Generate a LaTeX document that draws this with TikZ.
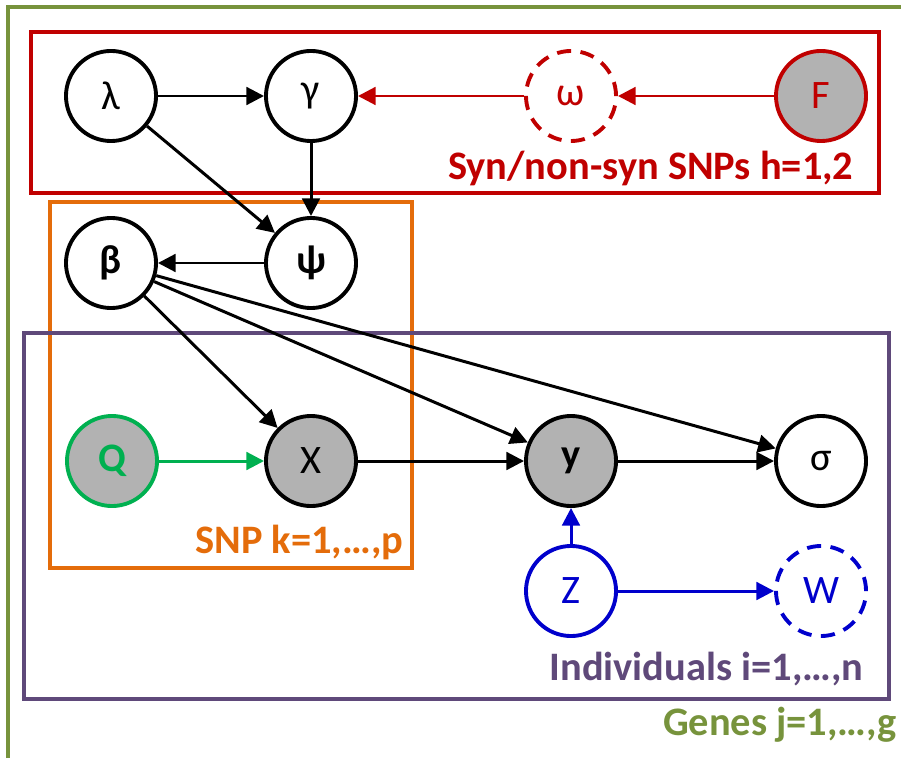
\documentclass[tikz,border=0pt]{standalone}
\usepackage{fontspec}
\setmainfont{Carlito}
\usetikzlibrary{arrows.meta}
\definecolor{synred}{HTML}{C00000}
\definecolor{snporange}{HTML}{E46C0A}
\definecolor{indpurple}{HTML}{5F497A}
\definecolor{genegreen}{HTML}{77933C}
\definecolor{qgreen}{HTML}{00B050}
\definecolor{zblue}{HTML}{0000CC}
\definecolor{obsgray}{HTML}{B2B2B2}
\tikzset{
  var/.style={circle, draw, fill=white, line width=1.1pt, minimum size=0.9cm, inner sep=0pt,
    font=\fontsize{11.5}{13}\selectfont},
  obs/.style={var, fill=obsgray},
  hidden/.style={dash pattern=on 4pt off 2.7pt},
  edge/.style={-{Triangle[length=5pt,width=5pt]}, line width=0.85pt},
  plate/.style={line width=0.9pt},
  platelabel/.style={anchor=base east, inner sep=0pt, font=\bfseries\fontsize{11.5}{13}\selectfont},
}
\begin{document}
\begin{tikzpicture}[x=0.01cm,y=-0.01cm]
            \useasboundingbox (0,0) rectangle (901,758);
            \draw[plate, genegreen] (8,758) |- (901,7);
            \draw[plate, synred] (31,32) rectangle (879,193);
            \draw[plate, snporange] (50,202) rectangle (412,568);
            \draw[plate, indpurple] (24,333) rectangle (889,699);
            \node[platelabel, synred] (synlab) at (854,180) {Syn/non-syn SNPs h=1,2};
            \node[platelabel, snporange] (snplab) at (404,553) {SNP k=1,…,p};
            \node[platelabel, indpurple] (indlab) at (864,680) {Individuals i=1,…,n};
            \node[platelabel, genegreen] (genelab) at (897,735) {Genes j=1,…,g};
            \node[var] (lambda) at (111,96) {λ};
            \node[var] (gamma) at (311,96) {γ};
            \node[var, hidden, draw=synred, text=synred] (omega) at (571,96) {ω};
            \node[obs, draw=synred, text=synred] (F) at (821,96) {F};
            \node[var] (beta) at (111,263) {\bfseries β};
            \node[var] (psi) at (311,263) {\bfseries ψ};
            \node[obs, draw=qgreen, text=qgreen] (Q) at (112,461) {\bfseries Q};
            \node[obs] (X) at (311,461) {X};
            \node[obs] (y) at (571,461) {\bfseries y};
            \node[var] (sigma) at (821,461) {σ};
            \node[var, draw=zblue, text=zblue] (Z) at (571,591) {Z};
            \node[var, hidden, draw=zblue, text=zblue] (W) at (821,591) {W};
            \draw[edge] (lambda) -- (gamma);
            \draw[edge, synred] (omega) -- (gamma);
            \draw[edge, synred] (F) -- (omega);
            \draw[edge] (lambda) -- (psi);
            \draw[edge] (gamma) -- (psi);
            \draw[edge] (psi) -- (beta);
            \draw[edge] (beta) -- (X);
            \draw[edge] (beta) -- (y);
            \draw[edge] (beta) -- (sigma);
            \draw[edge, qgreen] (Q) -- (X);
            \draw[edge] (X) -- (y);
            \draw[edge] (y) -- (sigma);
            \draw[edge, zblue] (Z) -- (y);
            \draw[edge, zblue] (Z) -- (W);
\end{tikzpicture}
\end{document}
